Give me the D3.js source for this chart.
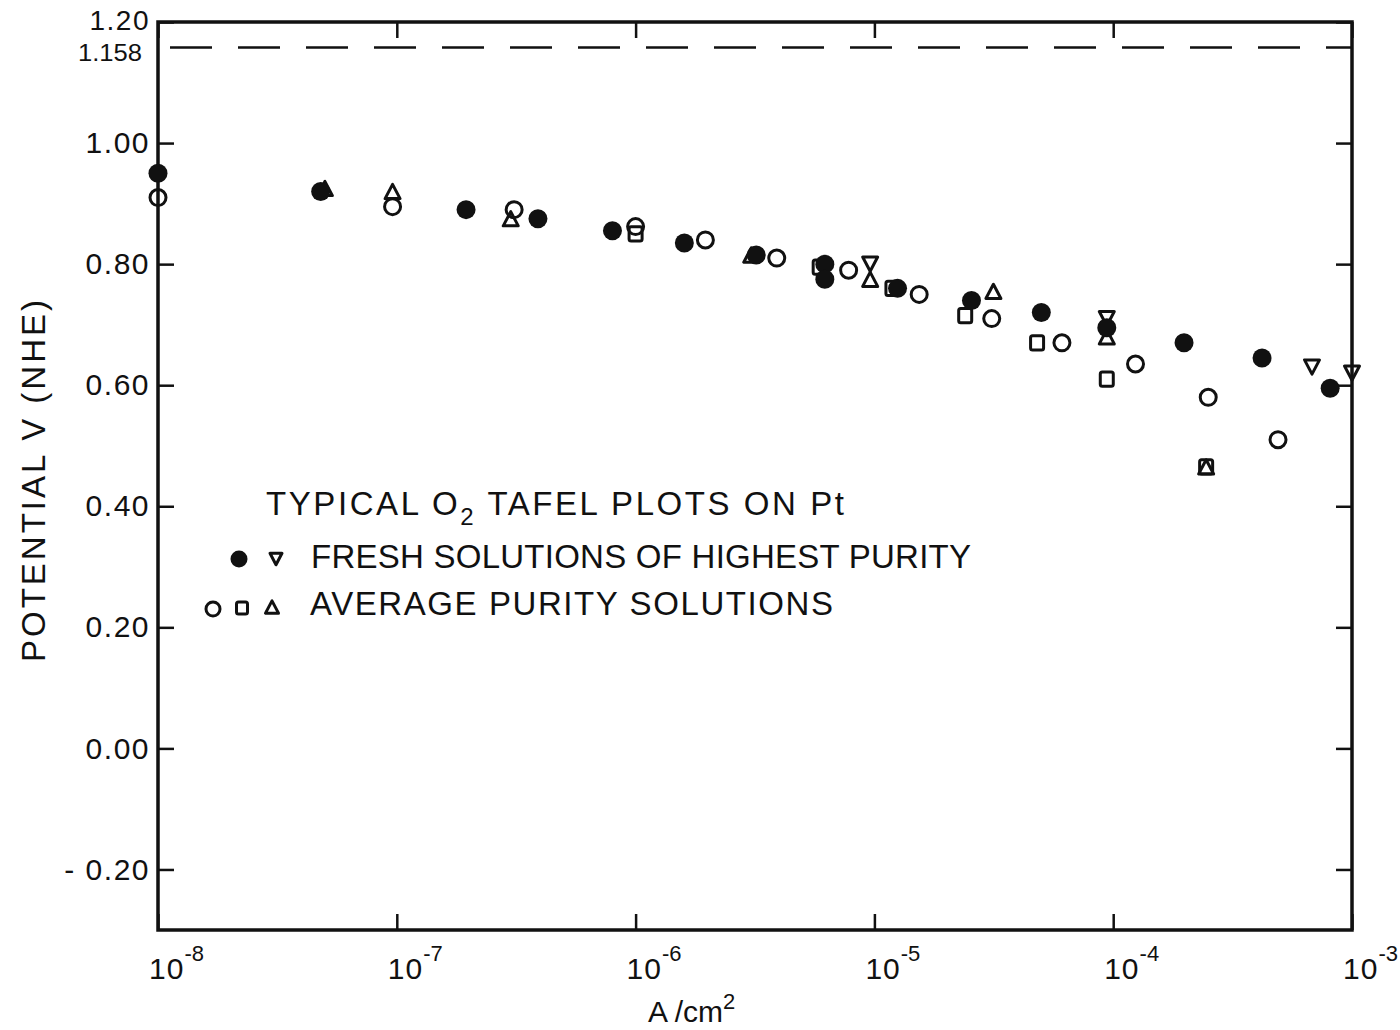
<!DOCTYPE html>
<html>
<head>
<meta charset="utf-8">
<script src="https://cdn.jsdelivr.net/npm/d3@7"></script>
<style>
  body { margin: 0; background: #fff; }
  text { font-family: "Liberation Sans", Arial, sans-serif; fill: #111; }
</style>
</head>
<body>
<svg id="chart" width="1400" height="1030"></svg>
<script>
// Current density (A/cm^2) and potential (V vs NHE)
// Fresh solutions of highest purity: filled circles
const freshCircleI = [1.0e-8, 4.8e-8, 1.95e-7, 3.9e-7, 8.0e-7, 1.6e-6, 3.2e-6, 6.2e-6, 6.2e-6, 1.25e-5, 2.55e-5, 5.0e-5, 9.4e-5, 1.98e-4, 4.2e-4, 8.1e-4];
const freshCircleV = [0.95, 0.92, 0.89, 0.875, 0.855, 0.835, 0.815, 0.80, 0.775, 0.76, 0.74, 0.72, 0.695, 0.67, 0.645, 0.595];
// Fresh solutions of highest purity: open down-triangles
const freshTriI = [9.6e-6, 9.4e-5, 6.8e-4, 1.0e-3];
const freshTriV = [0.80, 0.71, 0.63, 0.62];
// Average purity solutions: open circles
const avgCircleI = [1.0e-8, 9.6e-8, 3.1e-7, 1.0e-6, 1.96e-6, 3.9e-6, 7.8e-6, 1.54e-5, 3.1e-5, 6.1e-5, 1.24e-4, 2.5e-4, 4.9e-4];
const avgCircleV = [0.91, 0.895, 0.89, 0.862, 0.84, 0.81, 0.79, 0.75, 0.71, 0.67, 0.635, 0.58, 0.51];
// Average purity solutions: open squares
const avgSquareI = [1.0e-6, 5.9e-6, 1.19e-5, 2.4e-5, 4.8e-5, 9.4e-5, 2.45e-4];
const avgSquareV = [0.85, 0.795, 0.76, 0.715, 0.67, 0.61, 0.465];
// Average purity solutions: open up-triangles
const avgTriI = [5.0e-8, 9.6e-8, 3.0e-7, 3.05e-6, 9.6e-6, 3.15e-5, 9.4e-5, 2.45e-4];
const avgTriV = [0.925, 0.92, 0.875, 0.815, 0.775, 0.755, 0.68, 0.465];

const yTicks = [-0.2, 0.0, 0.2, 0.4, 0.6, 0.8, 1.0, 1.2];
const xTicks = [1e-8, 1e-7, 1e-6, 1e-5, 1e-4, 1e-3];
const xExponents = ["-8", "-7", "-6", "-5", "-4", "-3"];
const reversibleV = 1.158;

const svg = d3.select("#chart");
const L = 158, R = 1352, T = 22, B = 930;

const x = d3.scaleLog().domain([1e-8, 1e-3]).range([L, R]);
const y = d3.scaleLinear().domain([-0.30, 1.20]).range([B, T]);

const ink = "#111";

// reversible O2 potential
svg.append("line")
  .attr("x1", L).attr("x2", R)
  .attr("y1", y(reversibleV)).attr("y2", y(reversibleV))
  .attr("stroke", ink).attr("stroke-width", 2.5)
  .attr("stroke-dasharray", "42,26").attr("stroke-dashoffset", -12);

// axes with inward ticks
const fmtY = v => (v < 0 ? "- " : "") + Math.abs(v).toFixed(2);

const gL = svg.append("g").attr("transform", `translate(${L},0)`)
  .call(d3.axisLeft(y).tickValues(yTicks).tickSize(-16).tickPadding(8).tickFormat(fmtY));
const gR = svg.append("g").attr("transform", `translate(${R},0)`)
  .call(d3.axisRight(y).tickValues(yTicks).tickSize(-16).tickFormat(""));
const gT = svg.append("g").attr("transform", `translate(0,${T})`)
  .call(d3.axisTop(x).tickValues(xTicks).tickSize(-16).tickFormat(""));
const gB = svg.append("g").attr("transform", `translate(0,${B})`)
  .call(d3.axisBottom(x).tickValues(xTicks).tickSize(-16).tickFormat(""));

[gL, gR, gT, gB].forEach(g => {
  g.select(".domain").remove();
  g.selectAll(".tick line").attr("stroke", ink).attr("stroke-width", 2.5);
});
gL.selectAll(".tick text")
  .style("font-size", "30px").attr("fill", ink).attr("letter-spacing", "1.5")
  .attr("x", -8);
// the top label sits tight above the 1.158 label
gL.selectAll(".tick text").filter(d => d === 1.2)
  .style("font-size", "28px").attr("dy", "0.28em");

// frame
svg.append("rect")
  .attr("x", L).attr("y", T).attr("width", R - L).attr("height", B - T)
  .attr("fill", "none").attr("stroke", ink).attr("stroke-width", 3.5);

// label for the reversible potential
svg.append("text")
  .attr("x", 142).attr("y", y(reversibleV) + 14)
  .attr("text-anchor", "end").style("font-size", "24px")
  .attr("textLength", 64).attr("lengthAdjust", "spacingAndGlyphs")
  .text("1.158");

// x tick labels: 10 with superscript exponent
xTicks.forEach((t, i) => {
  const tx = svg.append("text")
    .attr("x", x(t) - 9).attr("y", 979)
    .style("font-size", "30px");
  tx.append("tspan").text("10").attr("letter-spacing", "1");
  tx.append("tspan").attr("dy", -18).style("font-size", "22px").text(xExponents[i]);
});

// axis titles
const xl = svg.append("text").attr("x", 648).attr("y", 1022).style("font-size", "30px");
xl.append("tspan").text("A /cm");
xl.append("tspan").attr("dy", -13).style("font-size", "22px").text("2");

svg.append("text")
  .attr("transform", "translate(45,481) rotate(-90)")
  .attr("text-anchor", "middle").style("font-size", "33px")
  .attr("textLength", 362).attr("lengthAdjust", "spacing")
  .text("POTENTIAL V (NHE)");

// marker painters
function filledCircle(g, cx, cy, r) {
  g.append("circle").attr("cx", cx).attr("cy", cy).attr("r", r).attr("fill", ink);
}
function openCircle(g, cx, cy, r) {
  g.append("circle").attr("cx", cx).attr("cy", cy).attr("r", r)
    .attr("fill", "none").attr("stroke", ink).attr("stroke-width", 3);
}
function openSquare(g, cx, cy, s) {
  g.append("rect").attr("x", cx - s / 2).attr("y", cy - s * 0.55)
    .attr("width", s).attr("height", s * 1.1).attr("rx", 2)
    .attr("fill", "none").attr("stroke", ink).attr("stroke-width", 3);
}
function triangle(g, cx, cy, s, down) {
  const h = s * 0.95;
  const d = down ? 1 : -1;
  const pts = [[cx - s / 2, cy - d * h / 2], [cx + s / 2, cy - d * h / 2], [cx, cy + d * h / 2]];
  g.append("path").attr("d", "M" + pts.map(p => p.join(",")).join("L") + "Z")
    .attr("fill", "none").attr("stroke", ink).attr("stroke-width", 3).attr("stroke-linejoin", "round");
}

const marks = svg.append("g");
avgSquareI.forEach((v, i) => openSquare(marks, x(v), y(avgSquareV[i]), 13));
avgTriI.forEach((v, i) => triangle(marks, x(v), y(avgTriV[i]), 15, false));
freshTriI.forEach((v, i) => triangle(marks, x(v), y(freshTriV[i]), 15, true));
avgCircleI.forEach((v, i) => openCircle(marks, x(v), y(avgCircleV[i]), 8));
freshCircleI.forEach((v, i) => filledCircle(marks, x(v), y(freshCircleV[i]), 9.5));

// legend
svg.append("text").attr("x", 266).attr("y", 515).style("font-size", "33px")
  .attr("textLength", 578).attr("lengthAdjust", "spacing")
  .call(t => {
    t.append("tspan").text("TYPICAL  O");
    t.append("tspan").attr("dy", 10).style("font-size", "24px").text("2");
    t.append("tspan").attr("dy", -10).text("  TAFEL PLOTS  ON Pt");
  });

const leg = svg.append("g");
filledCircle(leg, 239, 559, 8.5);
triangle(leg, 276, 559, 12, true);
svg.append("text").attr("x", 311).attr("y", 568).style("font-size", "33px")
  .attr("textLength", 660).attr("lengthAdjust", "spacing")
  .text("FRESH  SOLUTIONS OF HIGHEST  PURITY");

openCircle(leg, 213, 609, 7);
openSquare(leg, 242, 608, 11);
triangle(leg, 272, 607, 13, false);
svg.append("text").attr("x", 310).attr("y", 615).style("font-size", "33px")
  .attr("textLength", 523).attr("lengthAdjust", "spacing")
  .text("AVERAGE  PURITY  SOLUTIONS");
</script>
</body>
</html>
